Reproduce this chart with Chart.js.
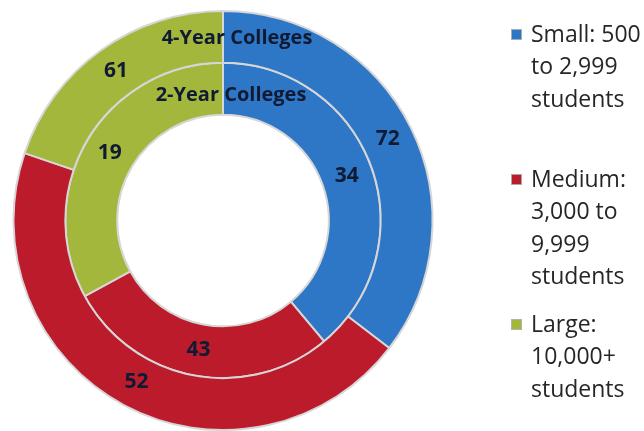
<!DOCTYPE html>
<html>
<head>
<meta charset="utf-8">
<script src="https://cdn.jsdelivr.net/npm/chart.js@4/dist/chart.umd.min.js"></script>
<style>
  html, body { margin: 0; padding: 0; background: #fff; }
  #wrap { position: relative; width: 644px; height: 431px; }
</style>
</head>
<body>
<div id="wrap"><canvas id="c"></canvas></div>
<script>
// ---- data ----
const categories = ["Small: 500 to 2,999 students", "Medium: 3,000 to 9,999 students", "Large: 10,000+ students"];
const legendLines = [["Small: 500", "to 2,999", "students"], ["Medium:", "3,000 to", "9,999", "students"], ["Large:", "10,000+", "students"]];
const ringNames = ["4-Year Colleges", "2-Year Colleges"];
const fourYearLabels = [72, 52, 61];   // numbers printed on the outer ring
const twoYearLabels = [34, 43, 19];    // numbers printed on the inner ring
// In the reference picture the outer ring's slice sizes follow the 34/43/19 shares
// and the inner ring's follow the 72/52/61 shares; reproduced as drawn.
const outerRingValues = twoYearLabels;
const innerRingValues = fourYearLabels;
const colors = ["#2e77c6", "#bc1b2c", "#a3b73d"];

const labelFont = "bold 21px 'Open Sans', Lato, sans-serif";
const textDark = "#101a33";

const ringLabelsPlugin = {
  id: "ringLabels",
  afterDatasetsDraw(chart) {
    const ctx = chart.ctx;
    const printed = [fourYearLabels, twoYearLabels];
    ctx.save();
    ctx.textAlign = "center";
    ctx.textBaseline = "middle";
    chart.data.datasets.forEach((ds, di) => {
      const meta = chart.getDatasetMeta(di);
      meta.data.forEach((arc, i) => {
        const p = arc.getProps(["x", "y", "startAngle", "endAngle", "innerRadius", "outerRadius"], true);
        const a = (p.startAngle + p.endAngle) / 2;
        const r = (p.innerRadius + p.outerRadius) / 2;
        ctx.font = labelFont;
        ctx.fillStyle = textDark;
        ctx.fillText(String(printed[di][i]), p.x + Math.cos(a) * r, p.y + Math.sin(a) * r);
      });
      // ring name at top of the ring
      const a0 = meta.data[0].getProps(["x", "y", "innerRadius", "outerRadius"], true);
      const rr = (a0.innerRadius + a0.outerRadius) / 2;
      ctx.font = "bold 20px 'Open Sans', Lato, sans-serif";
      ctx.fillText(ringNames[di], a0.x + (di === 0 ? 14 : 8), a0.y - rr + (di === 0 ? 1 : 7));
    });
    ctx.restore();
  }
};

const legendPlugin = {
  id: "sideLegend",
  afterDraw(chart) {
    const ctx = chart.ctx;
    ctx.save();
    ctx.textAlign = "left";
    ctx.textBaseline = "middle";
    ctx.font = "23px 'Open Sans', Lato, sans-serif";
    const x0 = 511, y0 = 35, entryGap = 145, lineH = 32.5;
    legendLines.forEach((lines, i) => {
      const y = y0 + i * entryGap;
      ctx.fillStyle = colors[i];
      ctx.fillRect(x0, y - 6, 11, 11);
      ctx.strokeStyle = "rgba(180,180,180,0.9)";
      ctx.lineWidth = 1;
      ctx.strokeRect(x0 + 0.5, y - 5.5, 10, 10);
      ctx.fillStyle = "#262626";
      lines.forEach((t, j) => ctx.fillText(t, x0 + 20, y + j * lineH));
    });
    ctx.restore();
  }
};

new Chart(document.getElementById("c"), {
  type: "doughnut",
  data: {
    labels: categories,
    datasets: [
      { label: ringNames[0], data: outerRingValues, backgroundColor: colors, borderColor: "#d6d6d6", borderWidth: 2 },
      { label: ringNames[1], data: innerRingValues, backgroundColor: colors, borderColor: "#d6d6d6", borderWidth: 2 }
    ]
  },
  options: {
    responsive: true,
    maintainAspectRatio: false,
    animation: false,
    cutout: "50.5%",
    layout: { padding: { left: 12, right: 210, top: 10, bottom: 0 } },
    plugins: { legend: { display: false }, tooltip: { enabled: false } }
  },
  plugins: [ringLabelsPlugin, legendPlugin]
});
</script>
</body>
</html>
